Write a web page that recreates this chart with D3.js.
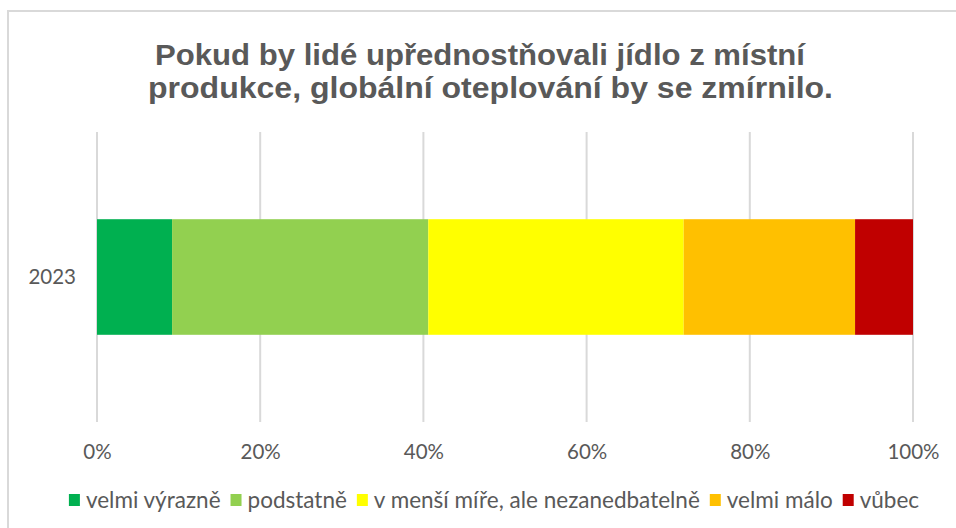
<!DOCTYPE html>
<html>
<head>
<meta charset="utf-8">
<script src="https://d3js.org/d3.v7.min.js"></script>
<style>
  html, body { margin: 0; padding: 0; background: #fff; }
  text { font-family: Lato, "Open Sans", sans-serif; fill: #595959; }
  .title { font-family: "Liberation Sans", Arial, sans-serif; font-weight: bold; font-size: 30px; }
  .grid line { stroke: #d9d9d9; stroke-width: 2px; }
</style>
</head>
<body>
<script>
var categories = ["2023"];
var seriesNames = ["velmi výrazně", "podstatně", "v menší míře, ale nezanedbatelně", "velmi málo", "vůbec"];
var seriesValues = [9.2, 31.4, 31.3, 21.0, 7.1];
var seriesColors = ["#00b050", "#92d050", "#ffff00", "#ffc000", "#c00000"];
var tickValues = [0, 0.2, 0.4, 0.6, 0.8, 1];
var titleLines = ["Pokud by lidé upřednostňovali jídlo z místní", "produkce, globální oteplování by se zmírnilo."];

var W = 956, H = 528;
var svg = d3.select("body").append("svg").attr("width", W).attr("height", H);

// chart frame
svg.append("rect").attr("x", 8).attr("y", 11).attr("width", W + 20).attr("height", H + 20)
  .attr("fill", "#fff").attr("stroke", "#d9d9d9").attr("stroke-width", 2);

// title
var titleWidths = [650, 685];
svg.selectAll("text.title").data(titleLines).enter().append("text")
  .attr("class", "title")
  .attr("x", function(d, i) { return i === 0 ? 155 : 148; })
  .attr("y", function(d, i) { return 65 + i * 33; })
  .attr("textLength", function(d, i) { return titleWidths[i]; })
  .attr("lengthAdjust", "spacingAndGlyphs")
  .text(function(d) { return d; });

var x = d3.scaleLinear().domain([0, 1]).range([97, 913]);
var y = d3.scaleBand().domain(categories).range([132, 422]).padding(0.43);

// gridlines
svg.append("g").attr("class", "grid")
  .selectAll("line").data(tickValues).enter().append("line")
  .attr("x1", function(d) { return x(d); }).attr("x2", function(d) { return x(d); })
  .attr("y1", 132).attr("y2", 422);

// stacked data
var total = d3.sum(seriesValues);
var cum = 0;
var segs = seriesValues.map(function(v, i) {
  var s = { name: seriesNames[i], x0: cum / total, x1: (cum + v) / total, color: seriesColors[i] };
  cum += v;
  return s;
});

svg.append("g").selectAll("rect").data(segs).enter().append("rect")
  .attr("x", function(d) { return x(d.x0); })
  .attr("width", function(d) { return x(d.x1) - x(d.x0); })
  .attr("y", y("2023"))
  .attr("height", y.bandwidth())
  .attr("fill", function(d) { return d.color; });

// x axis labels
var xAxis = d3.axisBottom(x).tickValues(tickValues).tickFormat(d3.format(".0%")).tickSize(0).tickPadding(0);
var gx = svg.append("g").attr("transform", "translate(0,452)").call(xAxis);
gx.select(".domain").remove();
gx.selectAll("text").attr("font-size", 20.5).attr("fill", "#595959").attr("y", 0).attr("dy", "0.35em")
  .style("font-family", "Lato, sans-serif");

// y axis label
var yAxis = d3.axisLeft(y).tickSize(0).tickPadding(21);
var gy = svg.append("g").attr("transform", "translate(97,0)").call(yAxis);
gy.select(".domain").remove();
gy.selectAll("text").attr("font-size", 20.5).attr("fill", "#595959")
  .style("font-family", "Lato, sans-serif");

// legend
var legend = svg.append("g");
var items = legend.selectAll("g").data(segs).enter().append("g");
items.append("rect").attr("width", 11).attr("height", 12).attr("y", -6)
  .attr("fill", function(d) { return d.color; });
items.append("text").attr("x", 17).attr("dy", "0.35em").attr("font-size", 22.5)
  .text(function(d) { return d.name; });
var lx = 0;
items.each(function() {
  var g = d3.select(this);
  g.attr("transform", "translate(" + lx + ",0)");
  lx += 17 + g.select("text").node().getComputedTextLength() + 10;
});
lx -= 10;
legend.attr("transform", "translate(" + (494 - lx / 2) + ",500)");
</script>
</body>
</html>
